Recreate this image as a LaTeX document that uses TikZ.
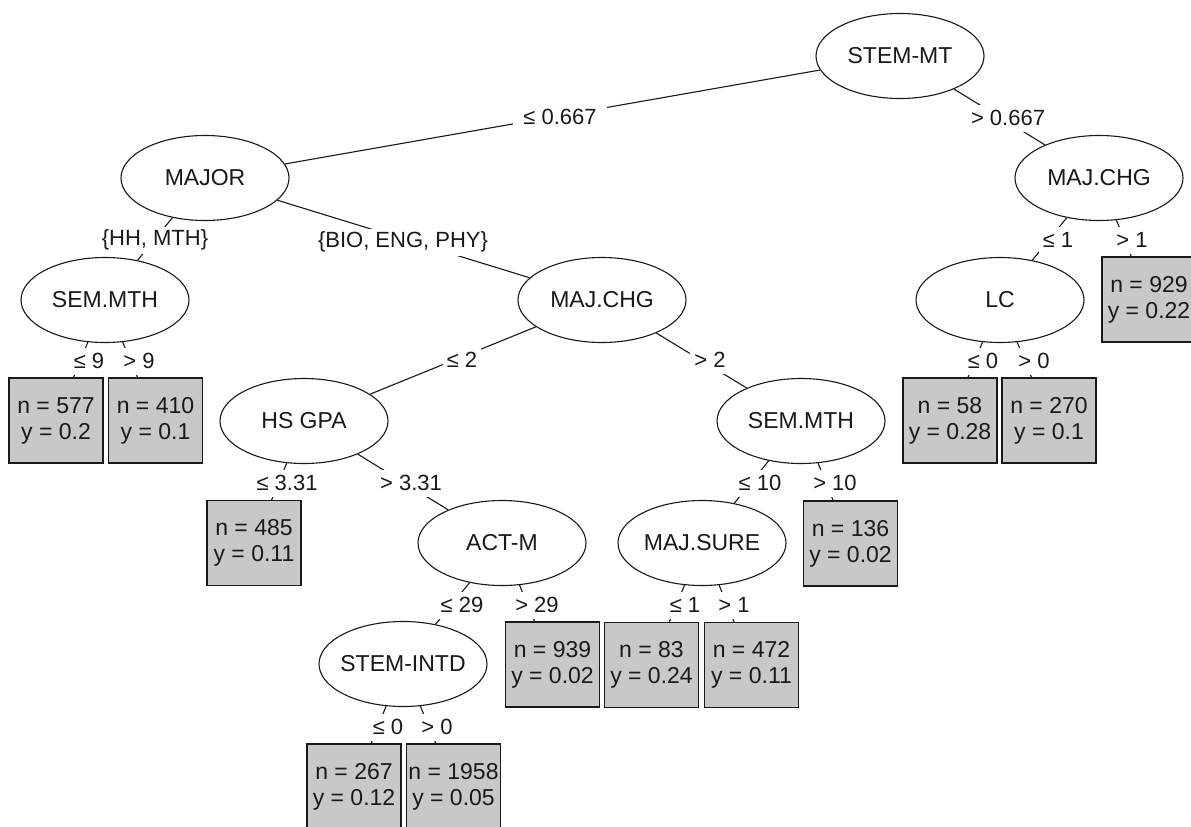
\documentclass[tikz,border=0pt]{standalone}
\usepackage{fontspec}
\setmainfont{Liberation Sans}
\usetikzlibrary{shapes.geometric}
\definecolor{leafgray}{RGB}{200,200,200}
\definecolor{ink}{RGB}{25,25,25}
\newcommand{\ctr}[1]{\makebox[0pt]{#1}}
\begin{document}
\begin{tikzpicture}[x=1pt,y=-1pt,
  split/.style={ellipse, draw=ink, line width=1.1pt, minimum width=168pt, minimum height=85pt, inner sep=0pt, font=\fontsize{23}{26}\selectfont, text=ink},
  leaf/.style={rectangle, draw=ink, line width=1.1pt, fill=leafgray, minimum width=94pt, minimum height=85pt, inner sep=0pt, align=center, font=\fontsize{23}{26}\selectfont, text=ink},
  br/.style={draw=ink, line width=1.1pt},
  cond/.style={fill=white, inner xsep=4pt, inner ysep=0pt, minimum height=27pt, font=\fontsize{22}{26}\selectfont, text=ink}]
\useasboundingbox (0,0) rectangle (1191,827);
\fill[white] (0,0) rectangle (1191,827);

% split nodes
\node[split] (stemmt)   at (900,56)  {\ctr{STEM-MT}};
\node[split] (major)    at (205,178) {\ctr{MAJOR}};
\node[split] (majchgR)  at (1099,178) {\ctr{MAJ.CHG}};
\node[split] (semL)     at (105,300) {\ctr{SEM.MTH}};
\node[split] (majchgM)  at (602,300) {\ctr{MAJ.CHG}};
\node[split] (lc)       at (1000,300) {\ctr{LC}};
\node[split] (hsgpa)    at (304,421) {\ctr{HS GPA}};
\node[split] (semM)     at (801,421) {\ctr{SEM.MTH}};
\node[split] (actm)     at (502,543) {\ctr{ACT-M}};
\node[split] (majsure)  at (702,543) {\ctr{MAJ.SURE}};
\node[split] (stemintd) at (403,664) {\ctr{STEM-INTD}};

% leaves
\node[leaf] (l577)  at (56,420.5)   {n = 577\\y = 0.2};
\node[leaf] (l410)  at (155.5,420.5){n = 410\\y = 0.1};
\node[leaf] (l485)  at (254,543)    {n = 485\\y = 0.11};
\node[leaf] (l939)  at (552.5,664.5){n = 939\\y = 0.02};
\node[leaf] (l267)  at (354,786.5)  {n = 267\\y = 0.12};
\node[leaf] (l1958) at (453.5,786.5){n = 1958\\y = 0.05};
\node[leaf] (l136)  at (850.5,543.5){n = 136\\y = 0.02};
\node[leaf] (l83)   at (651.5,665)  {n = 83\\y = 0.24};
\node[leaf] (l472)  at (751.5,665)  {n = 472\\y = 0.11};
\node[leaf] (l929)  at (1149,299.5) {n = 929\\y = 0.22};
\node[leaf] (l58)   at (950,420.5)  {n = 58\\y = 0.28};
\node[leaf] (l270)  at (1049,420.5) {n = 270\\y = 0.1};

% branches
\draw[br] (stemmt) -- (major);
\draw[br] (stemmt) -- (majchgR);
\draw[br] (major) -- (semL);
\draw[br] (major) -- (majchgM);
\draw[br] (semL) -- (l577);
\draw[br] (semL) -- (l410);
\draw[br] (majchgM) -- (hsgpa);
\draw[br] (majchgM) -- (semM);
\draw[br] (hsgpa) -- (l485);
\draw[br] (hsgpa) -- (actm);
\draw[br] (semM) -- (majsure);
\draw[br] (semM) -- (l136);
\draw[br] (actm) -- (stemintd);
\draw[br] (actm) -- (l939);
\draw[br] (majsure) -- (l83);
\draw[br] (majsure) -- (l472);
\draw[br] (stemintd) -- (l267);
\draw[br] (stemintd) -- (l1958);
\draw[br] (majchgR) -- (lc);
\draw[br] (majchgR) -- (l929);
\draw[br] (lc) -- (l58);
\draw[br] (lc) -- (l270);

% split labels
\node[cond, inner xsep=10pt] (c1) at (560,117) {≤ 0.667};
\node[cond] (c2)  at (1008,118) {> 0.667};
\node[cond] (c3)  at (155,240) {\{HH, MTH\}};
\node[cond] (c4)  at (403,242) {\{BIO, ENG, PHY\}};
\node[cond] (c5)  at (89,361)  {≤ 9};
\node[cond] (c6)  at (139,361) {> 9};
\node[cond] (c7)  at (462,360) {≤ 2};
\node[cond] (c8)  at (710,360) {> 2};
\node[cond] (c9)  at (287,483) {≤ 3.31};
\node[cond] (c10) at (411,483) {> 3.31};
\node[cond] (c11) at (760,483) {≤ 10};
\node[cond] (c12) at (835,483) {> 10};
\node[cond] (c13) at (462,605) {≤ 29};
\node[cond] (c14) at (537,605) {> 29};
\node[cond] (c15) at (685,605) {≤ 1};
\node[cond] (c16) at (734,605) {> 1};
\node[cond] (c17) at (388,727) {≤ 0};
\node[cond] (c18) at (437,727) {> 0};
\node[cond] (c19) at (1058,240) {≤ 1};
\node[cond] (c20) at (1132,240) {> 1};
\node[cond] (c21) at (983,361) {≤ 0};
\node[cond] (c22) at (1034,361) {> 0};
\end{tikzpicture}
\end{document}
